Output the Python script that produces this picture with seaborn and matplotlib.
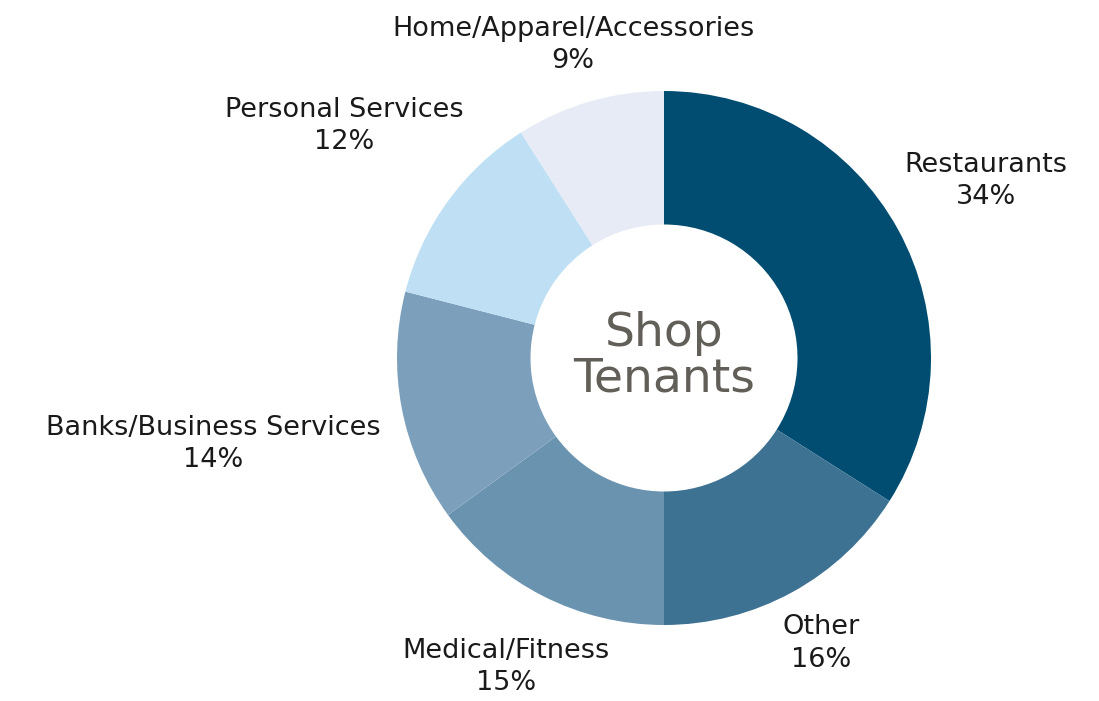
import matplotlib
matplotlib.use("Agg")
import matplotlib.pyplot as plt
import seaborn as sns
import numpy as np

# tenant mix data
categories = ["Restaurants", "Other", "Medical/Fitness", "Banks/Business Services",
              "Personal Services", "Home/Apparel/Accessories"]
shares = [34, 16, 15, 14, 12, 9]
colors = ["#004d71", "#3d7293", "#6a93b0", "#7ca0bc", "#bfe0f4", "#e6ebf5"]
label_dist = [1.375, 1.22, 1.30, 1.72, 1.48, 1.22]

sns.set_theme(style="white")
plt.rcParams['font.family'] = ['DejaVu Sans']

fig = plt.figure(figsize=(10.99, 7.01), dpi=100)
ax = fig.add_axes([0, 0, 1, 1])

cx, cy, r = 664, 343, 267
wedges, _ = ax.pie(shares, colors=colors, startangle=90, counterclock=False,
                   center=(cx, cy), radius=r, frame=True,
                   wedgeprops=dict(width=r * 0.5, linewidth=0))
ax.set_xlim(0, 1099)
ax.set_ylim(0, 701)
ax.axis('off')

for w, name, pct, d in zip(wedges, categories, shares, label_dist):
    ang = np.deg2rad((w.theta1 + w.theta2) / 2)
    x = cx + d * r * np.cos(ang)
    y = cy + d * r * np.sin(ang)
    ax.text(x, y, f"{name}\n{pct}%", ha='center', va='center', fontsize=19.5,
            color='#1a1a1a', linespacing=1.32)

ax.text(cx, cy + 2, "Shop\nTenants", ha='center', va='center', fontsize=34,
        color='#625f59', linespacing=1.0)

fig.savefig("out.png", dpi=100)
